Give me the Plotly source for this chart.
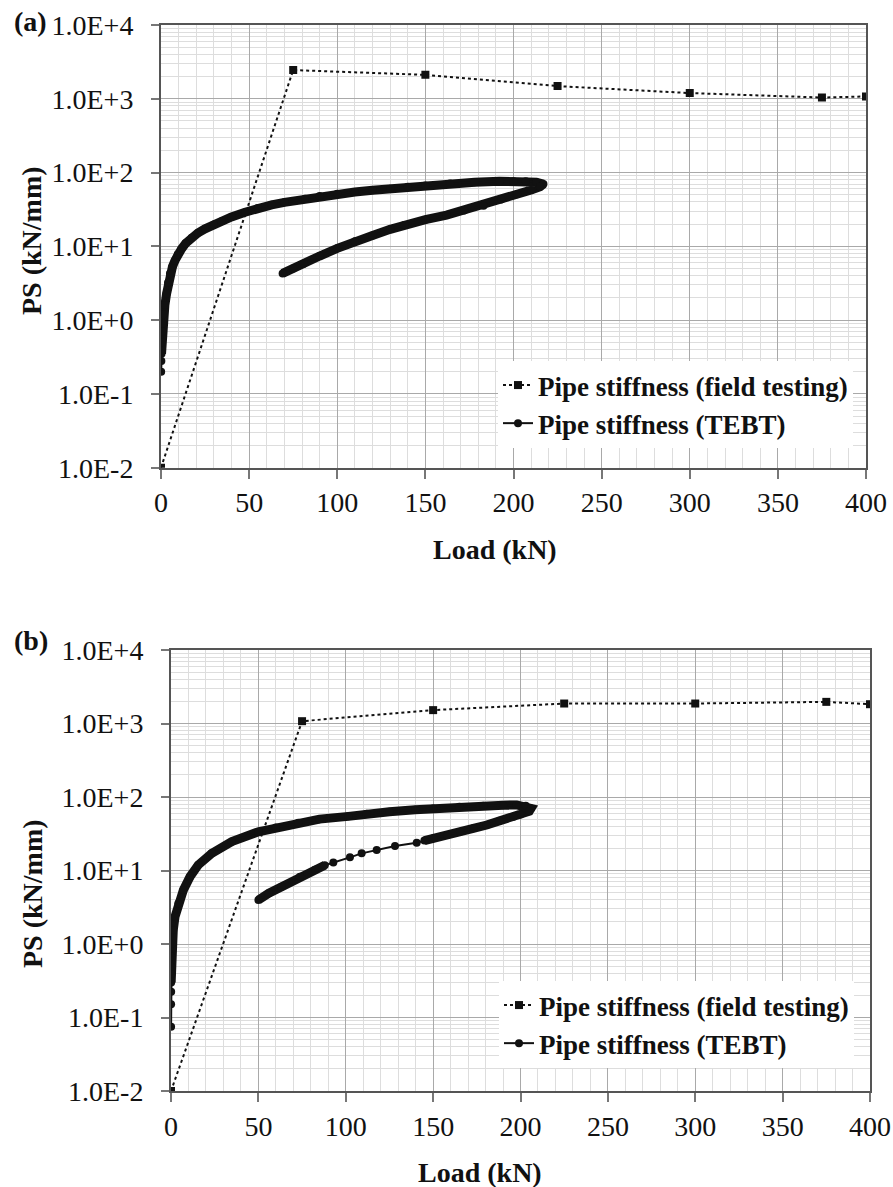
import plotly.graph_objects as go

# ---- data -------------------------------------------------------------
field_load = [0, 75, 150, 225, 300, 375, 400]
field_ps_a = [0.01, 2450, 2110, 1485, 1195, 1040, 1075]
field_ps_b = [0.01, 1075, 1520, 1870, 1870, 1970, 1830]

# TEBT, panel (a): loading branch then unloading branch
tebt_a_load_x = [0.1, 0.2, 0.3, 0.5, 0.8, 1.0, 1.5, 2.2, 3.2, 4.0, 5.1, 6.5, 7.9, 9.5,
                 11.7, 14, 17.4, 21, 25, 30, 34.4, 40, 47.7, 55, 62.8, 70, 81.7, 90,
                 100, 110, 120, 130, 140, 150, 164, 178, 192, 200, 207, 213, 217]
tebt_a_load_y = [0.2, 0.28, 0.35, 0.5, 0.7, 0.9, 1.2, 1.6, 2.3, 3.2, 4.3, 5.3, 6.4, 7.8,
                 9.3, 11, 13.1, 15.2, 17.3, 19.8, 21.9, 25, 29, 33, 36.5, 39.5, 44, 48,
                 51.5, 54.5, 57.5, 60.5, 64, 67, 71, 74, 76, 76.5, 76, 74, 70]
tebt_a_unload_x = [215, 210, 202, 193, 183, 172, 162, 150, 138, 130, 120, 110, 100,
                   90, 81, 75, 69]
tebt_a_unload_y = [64, 58, 51, 43, 35.6, 30.5, 26.5, 23, 19.5, 17, 14, 11.7, 9.4,
                   7.4, 5.8, 5.0, 4.3]

# TEBT, panel (b)
tebt_b_load_x = [0.05, 0.05, 0.1, 0.1, 0.15, 0.2, 0.4, 0.8, 1.3, 2.3, 4.2, 7.1, 10.9,
                 15.6, 23.3, 34.8, 50, 60, 72.9, 85, 101.5, 112, 125, 139.7, 150, 165,
                 178.7, 190, 197.8, 203, 206]
tebt_b_load_y = [0.075, 0.151, 0.224, 0.30, 0.39, 0.49, 0.67, 1.02, 1.55, 2.35, 3.57,
                 5.43, 8.24, 11.9, 17.1, 24.7, 33.7, 38.5, 44.5, 50, 54.5, 59, 63, 67,
                 70, 73.5, 76, 77.5, 78, 76, 70]
tebt_b_unload_x = [205, 200, 195.9, 188, 180.7, 173, 165.4, 158, 150.1, 145, 140.6,
                   128.2, 117.7, 109.1, 102.4, 92.9, 88, 82.4, 73.8, 63.3, 56, 50]
tebt_b_unload_y = [64, 58, 54, 47.5, 41.6, 37.5, 33.7, 30.5, 27.4, 25.5, 23.9,
                   21.5, 19, 17.1, 15.1, 12.8, 11.8, 10.2, 8.24, 6.0, 4.9, 3.97]

y_tick_vals = [1e-2, 1e-1, 1e0, 1e1, 1e2, 1e3, 1e4]
y_tick_text = ["1.0E-2", "1.0E-1", "1.0E+0", "1.0E+1", "1.0E+2", "1.0E+3", "1.0E+4"]
x_tick_vals = [0, 50, 100, 150, 200, 250, 300, 350, 400]

# ---- styling ----------------------------------------------------------
W, H = 893, 1187
SERIF = "Liberation Serif, Tinos, Times New Roman, DejaVu Serif, serif"
INK = "#111111"
minor_y = [m * 10 ** e for e in range(-2, 4) for m in range(2, 10)]


def band_mask(xs, ys, low_y=0.3, skip=None):
    """Thick band follows the densely sampled stretches only."""
    out = []
    for x, y in zip(xs, ys):
        hide = y < low_y or (skip is not None and skip[0] < x < skip[1])
        out.append(None if hide else y)
    return out


fig = go.Figure()

panels = [
    dict(xa="x", ya="y", leg="legend", field=field_ps_a,
         lx=tebt_a_load_x, ly=tebt_a_load_y, ux=tebt_a_unload_x, uy=tebt_a_unload_y,
         skip=None),
    dict(xa="x2", ya="y2", leg="legend2", field=field_ps_b,
         lx=tebt_b_load_x, ly=tebt_b_load_y, ux=tebt_b_unload_x, uy=tebt_b_unload_y,
         skip=(90, 143)),
]

for p in panels:
    tx = p["lx"] + p["ux"]
    ty = p["ly"] + p["uy"]
    band_y = band_mask(p["lx"], p["ly"]) + band_mask(p["ux"], p["uy"], skip=p["skip"])
    # dense TEBT record drawn as a heavy band
    fig.add_trace(go.Scatter(
        x=tx, y=band_y,
        mode="lines", line=dict(color=INK, width=9), connectgaps=False,
        showlegend=False, hoverinfo="skip", xaxis=p["xa"], yaxis=p["ya"]))
    fig.add_trace(go.Scatter(
        x=field_load, y=p["field"], mode="lines+markers",
        name="Pipe stiffness (field testing)",
        line=dict(color=INK, width=2, dash="dot"),
        marker=dict(symbol="square", size=8, color=INK),
        xaxis=p["xa"], yaxis=p["ya"], legend=p["leg"]))
    fig.add_trace(go.Scatter(
        x=tx, y=ty, mode="lines+markers",
        name="Pipe stiffness (TEBT)",
        line=dict(color=INK, width=2),
        marker=dict(symbol="circle", size=8, color=INK),
        xaxis=p["xa"], yaxis=p["ya"], legend=p["leg"]))

tick_font = dict(family=SERIF, size=28, color=INK)


def xaxis_cfg(domain, anchor):
    return dict(
        domain=domain, anchor=anchor, range=[0, 400], tickvals=x_tick_vals,
        ticks="outside", ticklen=9, tickwidth=1.5, tickcolor="#777777",
        ticklabelstandoff=0, tickfont=tick_font,
        showline=True, linecolor="#555555", linewidth=2, mirror=True,
        showgrid=True, gridcolor="#a9a9a9", gridwidth=1,
        minor=dict(dtick=10, tick0=0, showgrid=True, gridcolor="#dddddd",
                   gridwidth=1, ticks=""),
        zeroline=False, automargin=False, fixedrange=True)


def yaxis_cfg(domain, anchor):
    return dict(
        domain=domain, anchor=anchor, type="log", range=[-2, 4],
        tickvals=y_tick_vals, ticktext=y_tick_text,
        ticks="outside", ticklen=8, tickwidth=1.5, tickcolor="#777777",
        ticklabelstandoff=12, tickfont=tick_font,
        showline=True, linecolor="#555555", linewidth=2, mirror=True,
        showgrid=True, gridcolor="#a9a9a9", gridwidth=1,
        minor=dict(tickvals=minor_y, showgrid=True, gridcolor="#dddddd",
                   gridwidth=1, ticks=""),
        zeroline=False, automargin=False, fixedrange=True)


legend_style = dict(
    bgcolor="white", borderwidth=0, xanchor="left", yanchor="top",
    font=dict(family=SERIF, size=27, color=INK, weight="bold"),
    itemwidth=30, tracegroupgap=0)

bold = dict(family=SERIF, size=28, color=INK, weight="bold")


def label(text, px, py, angle=0):
    return dict(text=text, x=px / W, y=1 - py / H, xref="paper", yref="paper",
                xanchor="center", yanchor="middle", showarrow=False,
                textangle=angle, font=bold)


annotations = [
    label("(a)", 30, 21),
    label("(b)", 31, 640),
    label("PS (kN/mm)", 32, 241, -90),
    label("PS (kN/mm)", 32, 894, -90),
    label("Load (kN)", 495, 549),
    label("Load (kN)", 480, 1172),
]

fig.update_layout(
    width=W, height=H, margin=dict(l=0, r=0, t=0, b=0),
    paper_bgcolor="white", plot_bgcolor="white",
    xaxis=xaxis_cfg([161 / W, 866 / W], "y"),
    yaxis=yaxis_cfg([1 - 467.7 / H, 1 - 25 / H], "x"),
    xaxis2=xaxis_cfg([171 / W, 870 / W], "y2"),
    yaxis2=yaxis_cfg([1 - 1091 / H, 1 - 650 / H], "x2"),
    legend=dict(x=498 / W, y=1 - 361 / H, **legend_style),
    legend2=dict(x=499 / W, y=1 - 981 / H, **legend_style),
    annotations=annotations,
    showlegend=True,
)

fig.write_html("out.html", config=dict(displayModeBar=False))
